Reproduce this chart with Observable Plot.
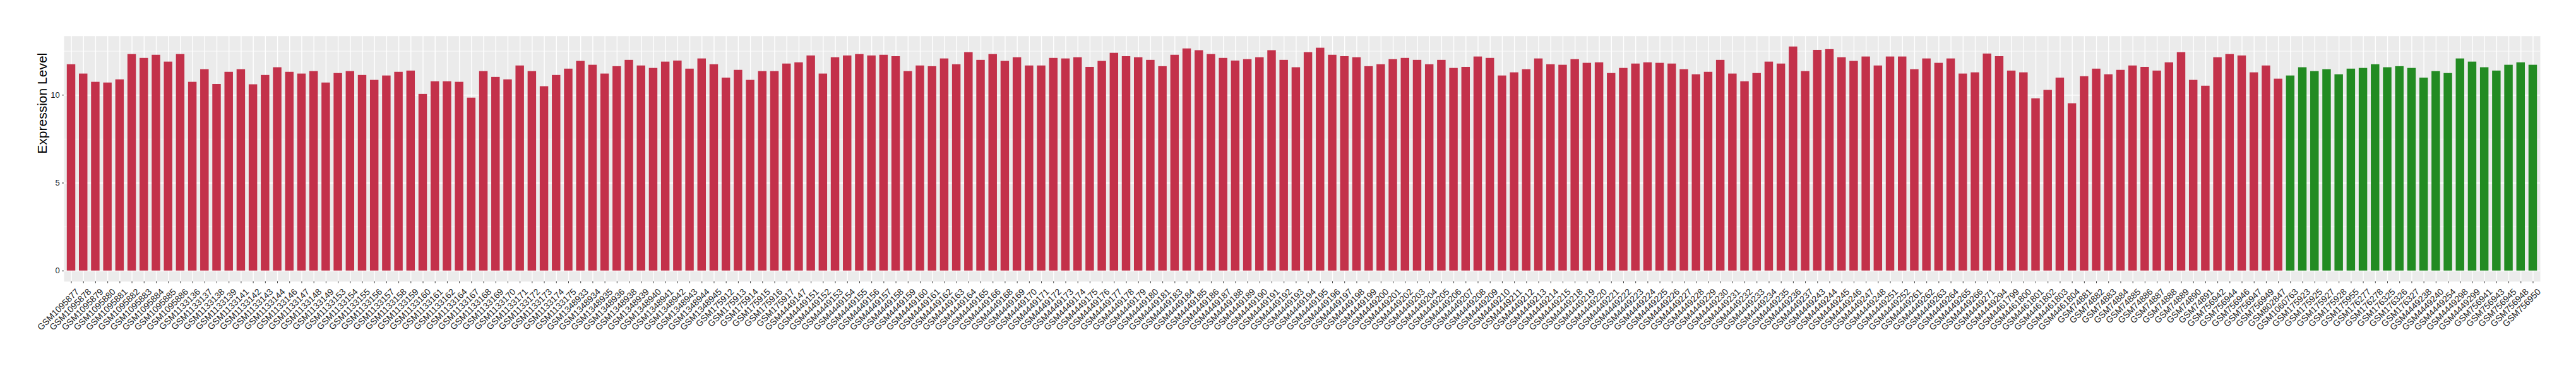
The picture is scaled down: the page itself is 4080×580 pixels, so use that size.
<!DOCTYPE html>
<html>
<head>
<meta charset="utf-8">
<script src="https://cdn.jsdelivr.net/npm/d3@7"></script>
<script src="https://cdn.jsdelivr.net/npm/@observablehq/plot@0.6"></script>
<style>
  html, body { margin: 0; padding: 0; background: #ffffff; }
  #chart svg { display: block; }
</style>
</head>
<body>
<div id="chart"></div>
<script>
const tumorSamples = [
  "GSM1095877","GSM1095878","GSM1095879","GSM1095880","GSM1095881","GSM1095882","GSM1095883","GSM1095884","GSM1095885","GSM1095886",
  "GSM1133136","GSM1133137","GSM1133138","GSM1133139","GSM1133141","GSM1133142","GSM1133143","GSM1133144","GSM1133146","GSM1133147",
  "GSM1133148","GSM1133149","GSM1133153","GSM1133154","GSM1133155","GSM1133156","GSM1133157","GSM1133158","GSM1133159","GSM1133160",
  "GSM1133161","GSM1133162","GSM1133164","GSM1133167","GSM1133168","GSM1133169","GSM1133170","GSM1133171","GSM1133172","GSM1133173",
  "GSM1133174","GSM1133175",
  "GSM1348933","GSM1348934","GSM1348935","GSM1348936","GSM1348938","GSM1348939","GSM1348940","GSM1348941","GSM1348942","GSM1348943",
  "GSM1348944","GSM1348945",
  "GSM175912","GSM175913","GSM175914","GSM175915","GSM175916","GSM175917",
  "GSM4449147","GSM4449151","GSM4449152","GSM4449153","GSM4449154","GSM4449155","GSM4449156","GSM4449157","GSM4449158","GSM4449159",
  "GSM4449160","GSM4449161","GSM4449162","GSM4449163","GSM4449164","GSM4449165","GSM4449166","GSM4449168","GSM4449169","GSM4449170",
  "GSM4449171","GSM4449172","GSM4449173","GSM4449174","GSM4449175","GSM4449176","GSM4449177","GSM4449178","GSM4449179","GSM4449180",
  "GSM4449181","GSM4449183","GSM4449184","GSM4449185","GSM4449186","GSM4449187","GSM4449188","GSM4449189","GSM4449190","GSM4449191",
  "GSM4449192","GSM4449193","GSM4449194","GSM4449195","GSM4449196","GSM4449197","GSM4449198","GSM4449199","GSM4449200","GSM4449201",
  "GSM4449202","GSM4449203","GSM4449204","GSM4449205","GSM4449206","GSM4449207","GSM4449208","GSM4449209","GSM4449210","GSM4449211",
  "GSM4449212","GSM4449213","GSM4449214","GSM4449215","GSM4449218","GSM4449219","GSM4449220","GSM4449221","GSM4449222","GSM4449223",
  "GSM4449224","GSM4449225","GSM4449226","GSM4449227","GSM4449228","GSM4449229","GSM4449230","GSM4449231","GSM4449232","GSM4449233",
  "GSM4449234","GSM4449235","GSM4449236","GSM4449237","GSM4449243","GSM4449244","GSM4449245","GSM4449246","GSM4449247","GSM4449248",
  "GSM4449251","GSM4449252","GSM4449261","GSM4449262","GSM4449263","GSM4449264","GSM4449265","GSM4449266","GSM4449271","GSM4449294",
  "GSM4461799","GSM4461800","GSM4461801","GSM4461802","GSM4461803","GSM4461804",
  "GSM74881","GSM74882","GSM74883","GSM74884","GSM74885","GSM74886","GSM74887","GSM74888","GSM74889","GSM74890","GSM74891",
  "GSM756942","GSM756944","GSM756946","GSM756947","GSM756949",
  "GSM802847"
];
const tumorValues = [
  11.74, 11.21, 10.74, 10.70, 10.88, 12.32, 12.10, 12.28, 11.89, 12.32,
  10.74, 11.46, 10.62, 11.31, 11.46, 10.60, 11.13, 11.57, 11.31, 11.21,
  11.35, 10.70, 11.24, 11.35, 11.13, 10.85, 11.10, 11.31, 11.38, 10.05,
  10.77, 10.77, 10.74, 9.84, 11.35, 11.02, 10.88, 11.67, 11.35, 10.49,
  11.13, 11.49,
  11.93, 11.71, 11.21, 11.63, 11.99, 11.67, 11.53, 11.89, 11.95, 11.49,
  12.07, 11.74,
  10.98, 11.42, 10.85, 11.35, 11.35, 11.78,
  11.85, 12.24, 11.21, 12.14, 12.24, 12.32, 12.24, 12.28, 12.20, 11.35,
  11.67, 11.63, 12.07, 11.74, 12.43, 11.99, 12.32, 11.93, 12.14, 11.67,
  11.67, 12.10, 12.07, 12.14, 11.59, 11.93, 12.39, 12.20, 12.14, 11.99,
  11.63, 12.28, 12.64, 12.54, 12.32, 12.10, 11.95, 12.03, 12.14, 12.54,
  11.99, 11.57, 12.43, 12.68, 12.28, 12.20, 12.14, 11.63, 11.74, 12.03,
  12.10, 11.99, 11.74, 11.99, 11.53, 11.59, 12.18, 12.10, 11.10, 11.28,
  11.46, 12.07, 11.74, 11.71, 12.03, 11.82, 11.85, 11.24, 11.53, 11.78,
  11.85, 11.82, 11.78, 11.46, 11.17, 11.31, 11.99, 11.21, 10.77, 11.24,
  11.89, 11.78, 12.75, 11.35, 12.56, 12.60, 12.14, 11.93, 12.18, 11.67,
  12.18, 12.18, 11.46, 12.07, 11.82, 12.07, 11.21, 11.28, 12.35, 12.20,
  11.38, 11.28, 9.80, 10.28, 10.98, 9.52,
  11.06, 11.49, 11.17, 11.42, 11.67, 11.59, 11.38, 11.85, 12.43, 10.85, 10.52,
  12.14, 12.32, 12.24, 11.28, 11.67,
  10.92
];
const normalSamples = [
  "GSM1060763","GSM175923","GSM175925","GSM175927","GSM175928","GSM175955",
  "GSM176277","GSM176278","GSM176325","GSM176326","GSM176327",
  "GSM4449238","GSM4449240","GSM4449254","GSM4449298","GSM4449299",
  "GSM756941","GSM756943","GSM756945","GSM756948","GSM756950"
];
const normalValues = [
  11.10, 11.57, 11.35, 11.46, 11.17, 11.49,
  11.53, 11.74, 11.57, 11.63, 11.53,
  10.98, 11.35, 11.24, 12.07, 11.89,
  11.57, 11.38, 11.71, 11.85, 11.71
];
const groupNames = ["Tumor", "Normal"];
const groupColors = ["#C3314A", "#228B22"];
const yTicks = [0, 5, 10];
const yMinorTicks = [2.5, 7.5, 12.5];
const yTitle = "Expression Level";

const data = [
  ...tumorSamples.map((s, i) => ({sample: s, value: tumorValues[i], group: groupNames[0]})),
  ...normalSamples.map((s, i) => ({sample: s, value: normalValues[i], group: groupNames[1]}))
];
const samples = data.map(d => d.sample);

const chart = Plot.plot({
  width: 4080,
  height: 580,
  marginLeft: 101,
  marginRight: 57,
  marginTop: 56.7,
  marginBottom: 134.3,
  style: {fontFamily: "'Liberation Sans', Arial, Helvetica, sans-serif", background: "#ffffff", color: "#000000"},
  x: {type: "band", domain: samples, paddingInner: 0.3, paddingOuter: 0.25, align: 0.5, label: null},
  y: {domain: [-0.61, 13.36], label: null},
  color: {domain: groupNames, range: groupColors},
  marks: [
    Plot.frame({fill: "#EBEBEB", stroke: "none"}),
    Plot.gridY(yMinorTicks, {stroke: "#ffffff", strokeOpacity: 1, strokeWidth: 0.7}),
    Plot.gridY(yTicks, {stroke: "#ffffff", strokeOpacity: 1, strokeWidth: 1.4}),
    Plot.gridX({stroke: "#ffffff", strokeOpacity: 1, strokeWidth: 1.4}),
    Plot.barY(data, {x: "sample", y: "value", fill: "group"}),
    Plot.axisY(yTicks, {tickSize: 3, tickPadding: 3.7, fontSize: 13, stroke: "#333333", fill: "#1a1a1a", label: null}),
    Plot.axisX({tickSize: 3, text: null, stroke: "#333333", label: null}),
    Plot.text(samples, {x: d => d, text: d => d, frameAnchor: "bottom", rotate: -45, textAnchor: "end", lineAnchor: "top", dx: 6, dy: 10, fontSize: 14, fill: "#1a1a1a"}),
    Plot.text([yTitle], {frameAnchor: "left", rotate: -90, dx: -34.4, dy: -8, fontSize: 21, fill: "#000000"})
  ]
});
document.getElementById("chart").appendChild(chart);
</script>
</body>
</html>
